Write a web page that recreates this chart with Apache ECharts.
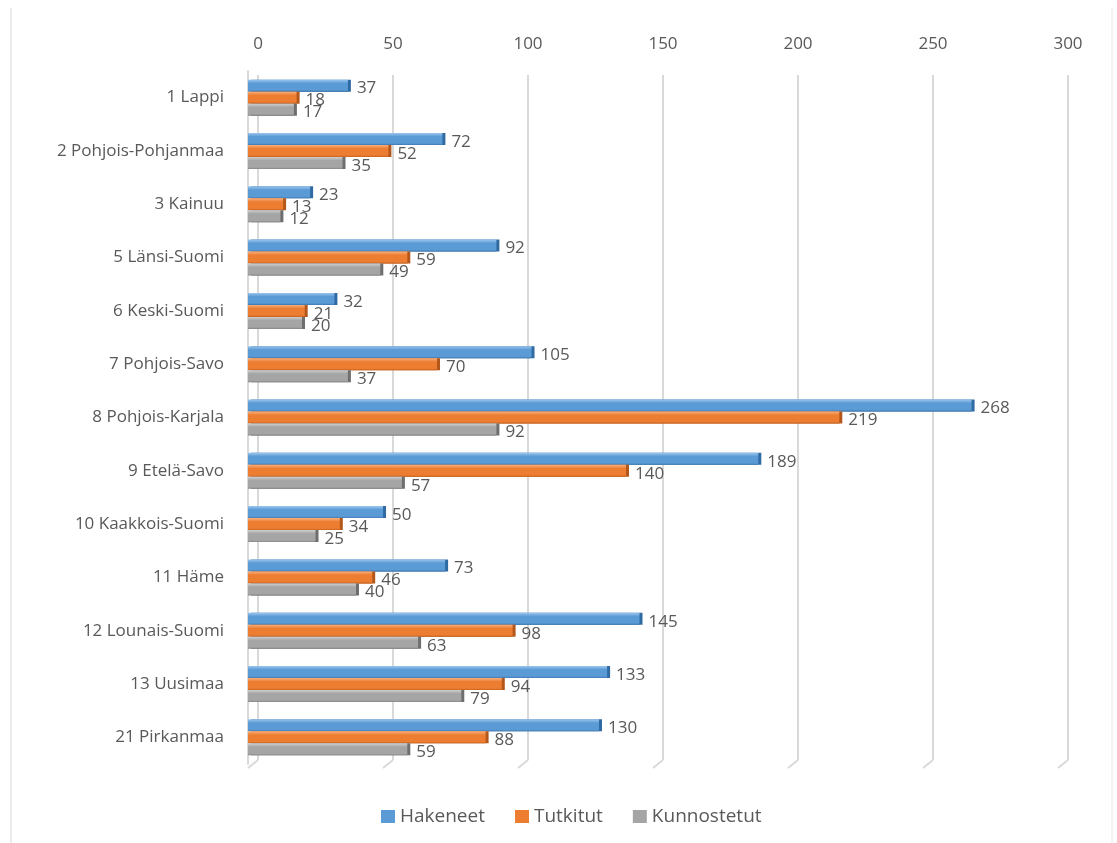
<!DOCTYPE html>
<html>
<head>
<meta charset="utf-8">
<script src="https://cdn.jsdelivr.net/npm/echarts@6/dist/echarts.min.js"></script>
<style>
  html, body { margin: 0; padding: 0; background: #ffffff; }
  #chart { width: 1117px; height: 843px; }
</style>
</head>
<body>
<div id="chart"></div>
<script>
// Regions and the three counts per region
const categories = [
  '1 Lappi', '2 Pohjois-Pohjanmaa', '3 Kainuu', '5 Länsi-Suomi', '6 Keski-Suomi',
  '7 Pohjois-Savo', '8 Pohjois-Karjala', '9 Etelä-Savo', '10 Kaakkois-Suomi',
  '11 Häme', '12 Lounais-Suomi', '13 Uusimaa', '21 Pirkanmaa'
];
const seriesNames = ['Hakeneet', 'Tutkitut', 'Kunnostetut'];
const hakeneet    = [37, 72, 23, 92, 32, 105, 268, 189, 50, 73, 145, 133, 130];
const tutkitut    = [18, 52, 13, 59, 21, 70, 219, 140, 34, 46, 98, 94, 88];
const kunnostetut = [17, 35, 12, 49, 20, 37, 92, 57, 25, 40, 63, 79, 59];
const gridTicks   = [0, 50, 100, 150, 200, 250, 300];

const FONT = 'Open Sans';
const TEXT = '#595959';
const BASE = ['#5b9bd5', '#ed7d31', '#a5a5a5'];

// Bar fill with a lighter top face and a darker end cap (3D look)
function barStyle(light, base, dark, edge) {
  return {
    color: new echarts.graphic.LinearGradient(0, 0, 0, 1, [
      { offset: 0, color: light },
      { offset: 0.3, color: base },
      { offset: 0.85, color: base },
      { offset: 1, color: dark }
    ]),
    shadowColor: edge,
    shadowOffsetX: 3,
    shadowOffsetY: 0,
    shadowBlur: 0
  };
}

function barSeries(name, data, style) {
  return {
    name: name,
    type: 'bar',
    xAxisIndex: 0,
    yAxisIndex: 0,
    data: data,
    barWidth: 12,
    barGap: '0%',
    itemStyle: style,
    label: {
      show: true,
      position: 'right',
      distance: 9,
      offset: [0, 3],
      color: TEXT,
      fontFamily: FONT,
      fontSize: 17
    }
  };
}

const chart = echarts.init(document.getElementById('chart'), null, { renderer: 'canvas' });

chart.setOption({
  backgroundColor: '#ffffff',
  animation: false,
  grid: [
    // front plane: bars
    { left: 248, right: 59, top: 71, bottom: 79 },
    // back wall: gridlines and value labels
    { left: 258, right: 49, top: 75, bottom: 83 }
  ],
  xAxis: [
    {
      gridIndex: 0, type: 'value', min: 0, max: 300, interval: 50,
      show: false
    },
    {
      gridIndex: 1, type: 'value', min: 0, max: 300, interval: 50,
      position: 'top',
      axisLine: { show: false },
      axisTick: { show: false },
      axisLabel: { color: TEXT, fontFamily: FONT, fontSize: 17, margin: 22 },
      splitLine: { show: true, lineStyle: { color: '#d9d9d9', width: 2 } }
    }
  ],
  yAxis: [
    {
      gridIndex: 0, type: 'category', data: categories, inverse: true,
      offset: 5,
      axisLine: { show: true, lineStyle: { color: '#d9d9d9', width: 2 } },
      axisTick: { show: false },
      axisLabel: { color: TEXT, fontFamily: FONT, fontSize: 17, margin: 19 }
    },
    {
      gridIndex: 1, type: 'value', min: 0, max: 1, show: false
    }
  ],
  legend: {
    top: 802,
    left: 376,
    icon: 'rect',
    itemWidth: 14,
    itemHeight: 13,
    itemGap: 30,
    textStyle: { color: TEXT, fontFamily: FONT, fontSize: 19 },
    data: seriesNames.map(function (n, i) {
      return { name: n, itemStyle: { color: BASE[i], shadowColor: 'transparent', shadowOffsetX: 0 } };
    })
  },
  series: [
    barSeries(seriesNames[0], hakeneet, barStyle('#9cc6ee', BASE[0], '#3f78b0', '#2f6aa3')),
    barSeries(seriesNames[1], tutkitut, barStyle('#f8b07e', BASE[1], '#c9621d', '#b4571a')),
    barSeries(seriesNames[2], kunnostetut, barStyle('#cfcfcf', BASE[2], '#878787', '#6e6e6e')),
    {
      // floor edges joining the back gridlines to the front plane
      type: 'custom',
      xAxisIndex: 1,
      yAxisIndex: 1,
      silent: true,
      data: gridTicks,
      renderItem: function (params, api) {
        const p = api.coord([api.value(0), 0]);
        return {
          type: 'line',
          shape: { x1: p[0], y1: p[1], x2: p[0] - 10, y2: p[1] + 8 },
          style: { stroke: '#d9d9d9', lineWidth: 2 }
        };
      }
    }
  ],
  graphic: [
    { type: 'line', shape: { x1: 11, y1: 8, x2: 11, y2: 843 }, style: { stroke: '#ececec', lineWidth: 2 }, silent: true },
    { type: 'line', shape: { x1: 1112, y1: 8, x2: 1112, y2: 843 }, style: { stroke: '#f3f3f3', lineWidth: 2 }, silent: true }
  ]
});
</script>
</body>
</html>
